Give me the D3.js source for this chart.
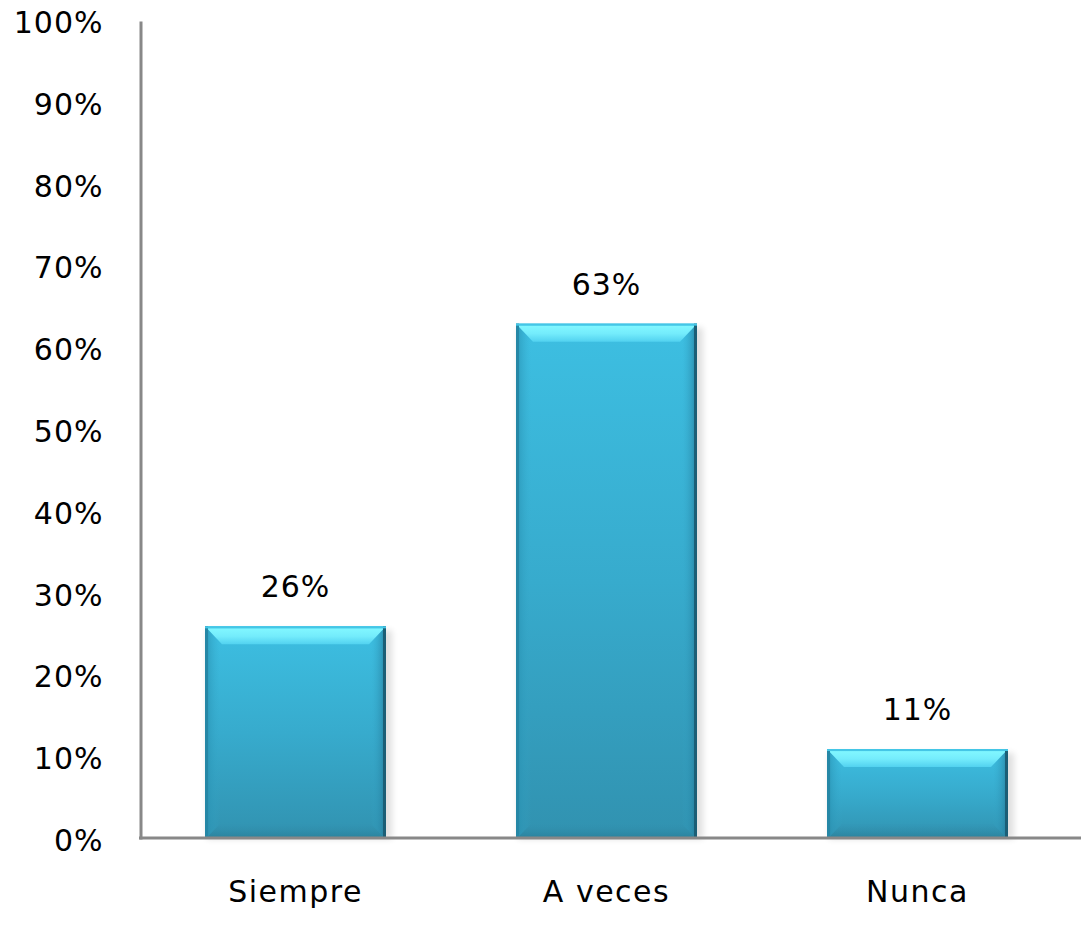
<!DOCTYPE html>
<html>
<head>
<meta charset="utf-8">
<script src="https://cdn.jsdelivr.net/npm/d3@7"></script>
<style>
  html, body { margin: 0; padding: 0; background: #fff; }
  svg { display: block; }
  text { font-family: "DejaVu Sans", Verdana, sans-serif; fill: #000; }
</style>
</head>
<body>
<svg id="chart" width="1081" height="937"></svg>
<script>
// Response shares per answer option
const categories = ["Siempre", "A veces", "Nunca"];
const values = [26, 63, 11];
const yTicks = [0, 10, 20, 30, 40, 50, 60, 70, 80, 90, 100];

const width = 1081, height = 937;
const svg = d3.select("#chart");

const x = d3.scaleBand()
  .domain(categories)
  .range([140, 1073])
  .paddingInner(0.418)
  .paddingOuter(0.209);

const y = d3.scaleLinear().domain([0, 100]).range([839, 21]);

const defs = svg.append("defs");

function linGrad(id, x1, y1, x2, y2, stops) {
  const g = defs.append("linearGradient").attr("id", id)
    .attr("x1", x1).attr("y1", y1).attr("x2", x2).attr("y2", y2);
  stops.forEach(([o, c, op]) => g.append("stop")
    .attr("offset", o).attr("stop-color", c).attr("stop-opacity", op == null ? 1 : op));
}

// body of the bar: bright cyan at the top, deeper teal at the bottom
linGrad("barBody", 0, 0, 0, 1, [[0, "#3dbfe2"], [0.5, "#37abcd"], [1, "#3192b0"]]);
// raised top edge
linGrad("bevelTop", 0, 0, 0, 1, [[0, "#48cbea"], [0.15, "#80f6ff"], [0.55, "#74ecfc"], [1, "#52d2f0"]]);
// side and bottom edges
linGrad("bevelLeft", 0, 0, 1, 0, [[0, "#237f9c", 0.8], [0.3, "#2a95b6", 0.5], [1, "#36a9cc", 0]]);
linGrad("bevelRight", 1, 0, 0, 0, [[0, "#1a5f78", 1], [0.25, "#2680a0", 0.55], [1, "#36a9cc", 0]]);
linGrad("bevelBottom", 0, 1, 0, 0, [[0, "#267890", 0.7], [1, "#318fae", 0.1]]);

const shadow = defs.append("filter").attr("id", "barShadow")
  .attr("x", "-20%").attr("y", "-20%").attr("width", "140%").attr("height", "140%");
shadow.append("feGaussianBlur").attr("stdDeviation", 3);

const bars = svg.append("g").selectAll("g")
  .data(categories.map((c, i) => ({ c, v: values[i] })))
  .join("g");

bars.each(function (d) {
  const g = d3.select(this);
  const x0 = x(d.c), x1 = x0 + x.bandwidth();
  const y0 = y(d.v), y1 = y(0);
  const b = 15;

  // soft shadow behind the bar
  g.append("rect")
    .attr("x", x0 + 2).attr("y", y0 + 4)
    .attr("width", x.bandwidth() + 4).attr("height", y1 - y0 - 4)
    .attr("fill", "#000").attr("opacity", 0.12)
    .attr("filter", "url(#barShadow)");

  g.append("rect")
    .attr("x", x0).attr("y", y0)
    .attr("width", x.bandwidth()).attr("height", y1 - y0)
    .attr("fill", "url(#barBody)");

  const poly = pts => pts.map(p => p.join(",")).join(" ");

  g.append("polygon")
    .attr("points", poly([[x0, y1], [x0 + b, y1 - b], [x1 - b, y1 - b], [x1, y1]]))
    .attr("fill", "url(#bevelBottom)");
  g.append("polygon")
    .attr("points", poly([[x0, y0], [x0 + b, y0 + b], [x0 + b, y1 - b], [x0, y1]]))
    .attr("fill", "url(#bevelLeft)");
  g.append("polygon")
    .attr("points", poly([[x1, y0], [x1 - b, y0 + b], [x1 - b, y1 - b], [x1, y1]]))
    .attr("fill", "url(#bevelRight)");
  g.append("polygon")
    .attr("points", poly([[x0, y0], [x1, y0], [x1 - b - 2, y0 + b + 3], [x0 + b + 2, y0 + b + 3]]))
    .attr("fill", "url(#bevelTop)");

  // thin outer edges
  g.append("rect").attr("x", x0).attr("y", y0).attr("width", 3).attr("height", y1 - y0)
    .attr("fill", "#2587a6");
  g.append("rect").attr("x", x1 - 3).attr("y", y0).attr("width", 3).attr("height", y1 - y0)
    .attr("fill", "#1b5e76");
  g.append("rect").attr("x", x0).attr("y", y0).attr("width", x.bandwidth()).attr("height", 2)
    .attr("fill", "#45c6e6");

  // value label above the bar
  g.append("text")
    .attr("x", (x0 + x1) / 2).attr("y", y0 - 29)
    .attr("text-anchor", "middle")
    .attr("font-size", 30)
    .attr("letter-spacing", 1)
    .text(d.v + "%");
});

// vertical axis
const yAxis = svg.append("g")
  .attr("transform", "translate(140.5,0)")
  .call(d3.axisLeft(y).tickValues(yTicks).tickFormat(d => d + "%")
    .tickSize(0).tickSizeOuter(0).tickPadding(37));
yAxis.select(".domain").attr("stroke", "#888").attr("stroke-width", 3);
yAxis.selectAll(".tick text")
  .attr("font-size", 30)
  .attr("font-family", "DejaVu Sans, Verdana, sans-serif")
  .attr("fill", "#000")
  .attr("letter-spacing", 1)
  .attr("dy", "0.38em");

// horizontal axis
const xAxis = svg.append("g")
  .attr("transform", "translate(0,838)")
  .call(d3.axisBottom(x).tickSize(0).tickPadding(43));
xAxis.select(".domain").remove();
xAxis.append("line")
  .attr("x1", 139).attr("x2", width)
  .attr("y1", 0).attr("y2", 0)
  .attr("stroke", "#888").attr("stroke-width", 3);
xAxis.selectAll(".tick text")
  .attr("font-size", 30)
  .attr("font-family", "DejaVu Sans, Verdana, sans-serif")
  .attr("fill", "#000")
  .attr("letter-spacing", 1.5);
</script>
</body>
</html>
